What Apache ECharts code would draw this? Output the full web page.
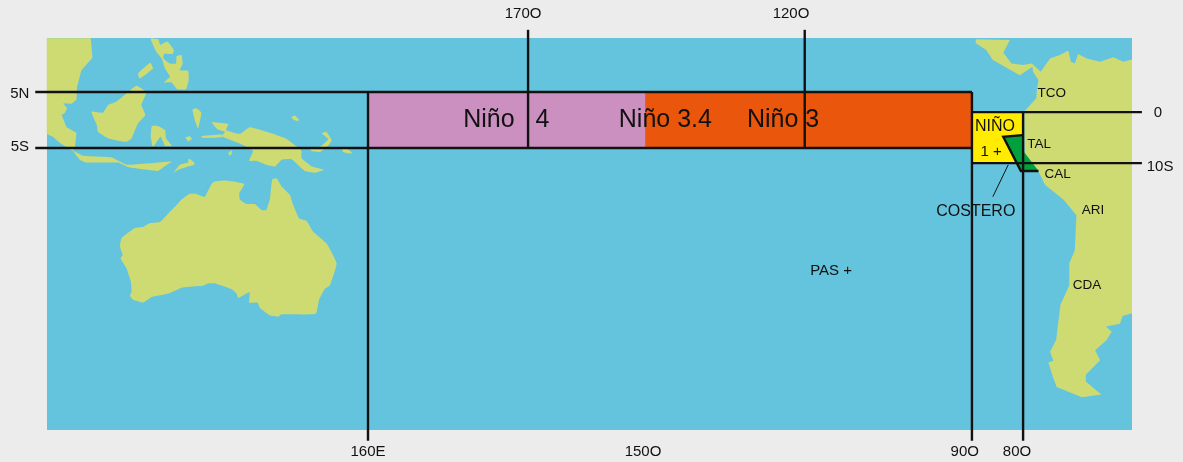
<!DOCTYPE html>
<html><head><meta charset="utf-8">
<style>html,body{margin:0;padding:0;background:#ececec}#c{width:1183px;height:462px}</style>
<script src="https://cdn.jsdelivr.net/npm/echarts@6/dist/echarts.min.js"></script>
</head><body><div id="c"></div>
<script>
// Longitudes run eastward from 0 to 360 (so 90O = 270); latitudes are negative in the south.
const lonRange = [101.64, 298.9];
const latRange = [-55.36, 14.64];

// Land outlines [lon, lat]
const indochina = [[101.6,14.6],[109.6,14.6],[109.9,11.1],[107.9,8.9],[107.1,5.9],[107.0,3.6],[106.1,2.9],[104.6,3.0],[105.3,2.1],[104.9,1.3],[104.3,0.9],[105.2,-1.3],[107.0,-2.3],[106.7,-5.0],[106.3,-5.5],[104.0,-4.1],[102.7,-3.0],[101.6,-2.5]];
const java = [[106.4,-5.5],[108.2,-6.4],[113.4,-6.7],[116.2,-8.0],[124.3,-7.4],[123.1,-8.2],[121.8,-9.1],[116.4,-8.4],[114.6,-7.6],[108.8,-7.6],[107.6,-7.1]];
const borneo = [[117.9,6.1],[119.7,4.9],[118.8,2.7],[119.5,0.9],[118.2,-0.6],[117.0,-3.3],[116.0,-3.9],[112.8,-3.3],[110.9,-2.1],[110.7,-0.9],[109.7,1.5],[111.8,1.3],[112.8,2.7],[114.3,3.3],[115.8,4.5]];
const philippines = [[120.5,14.5],[121.9,14.4],[122.2,13.4],[123.5,14.0],[124.7,12.5],[124.5,11.8],[122.9,11.8],[122.8,11.0],[124.0,10.1],[125.1,10.1],[125.2,11.4],[126.1,11.6],[126.3,10.1],[125.8,8.9],[127.3,8.8],[127.4,7.1],[126.9,5.5],[125.3,5.5],[124.3,6.7],[122.9,6.7],[124.0,7.7],[123.1,9.2],[122.5,11.0],[121.5,12.2]];
const palawan = [[118.2,8.3],[120.4,10.2],[120.9,9.2],[118.5,7.4]];
const sulawesi = [[120.7,-1.1],[121.9,-1.1],[123.1,-1.8],[123.3,-3.3],[124.3,-4.6],[123.1,-4.6],[122.3,-3.0],[120.9,-4.8],[120.5,-3.0]];
const halmahera = [[128.1,1.9],[128.8,2.1],[129.7,1.3],[129.1,-1.5],[128.5,0]];
const buru = [[126.8,-3.1],[127.6,-2.9],[128.0,-3.4],[127.3,-3.8]];
const seram = [[129.6,-2.9],[133.4,-2.6],[133.4,-3.1],[130.1,-3.2]];
const timor = [[124.7,-9.4],[125.8,-8.0],[127.3,-7.6],[127.4,-6.9],[128.4,-7.6],[128.4,-8.0],[127.0,-8.4],[125.5,-8.9]];
const newGuinea = [[131.6,-0.4],[134.6,-0.7],[134.2,-1.8],[136.7,-2.5],[138.5,-1.3],[142.2,-2.3],[145.2,-3.4],[147.9,-5.5],[147.9,-6.8],[149.8,-8.3],[152.0,-8.9],[150.4,-9.4],[148.5,-9.1],[146.1,-7.0],[144.3,-7.1],[143.1,-8.3],[141.5,-8.0],[139.7,-7.3],[138.4,-7.3],[139.1,-5.5],[136.7,-4.2],[133.4,-2.9],[134.0,-2.1],[132.7,-1.7]];
const newBritain = [[149.5,-5.2],[151.3,-4.8],[152.8,-3.4],[151.6,-2.4],[152.4,-2.1],[153.4,-3.6],[152.8,-4.5],[151.3,-5.7],[149.8,-5.6]];
const bougainville = [[155.2,-4.9],[155.8,-4.9],[157.0,-5.7],[157.0,-6.0],[155.5,-5.7]];
const manus = [[146.1,0.5],[146.7,0.8],[147.4,0.1],[147.3,-0.2],[146.4,0.1]];
const aru = [[134.6,-5.9],[135.2,-5.4],[135.2,-6.1],[134.8,-6.3]];
const australia = [[131.8,-11.1],[134.0,-10.8],[137.5,-11.4],[136.6,-13.1],[136.7,-14.2],[137.9,-15.0],[139.4,-15.0],[140.7,-16.1],[141.5,-16.1],[142.2,-14.0],[142.3,-12.8],[142.6,-10.6],[143.4,-10.4],[144.3,-11.9],[145.8,-13.4],[146.3,-14.9],[147.5,-17.6],[148.8,-18.0],[150.0,-19.9],[152.5,-22.1],[154.3,-25.6],[153.1,-29.5],[152.2,-30.1],[151.1,-32.1],[150.5,-34.6],[144.3,-34.7],[143.7,-35.1],[142.2,-34.9],[140.4,-33.6],[139.9,-32.6],[138.4,-32.6],[138.5,-30.7],[137.3,-31.3],[136.4,-31.8],[136.1,-31.0],[135.2,-30.2],[132.2,-29.2],[130.9,-29.2],[130.0,-29.6],[126.3,-29.9],[123.7,-31.0],[120.7,-31.6],[119.1,-32.6],[117.3,-32.1],[116.7,-31.4],[117.0,-30.7],[116.9,-28.9],[116.1,-26.5],[115.0,-24.7],[115.4,-24.1],[114.9,-22.6],[115.2,-21.1],[117.6,-19.3],[119.1,-19.1],[120.4,-18.4],[122.2,-18.2],[123.7,-16.7],[125.2,-15.2],[126.1,-14.2],[127.5,-13.2],[128.8,-13.2],[130.3,-13.7]];
const americas = [[270.5,14.4],[276.7,14.3],[275.5,12.0],[277.0,10.1],[279.1,9.8],[280.7,10.1],[282.3,8.6],[284.0,11.0],[285.8,11.6],[287.3,12.4],[287.8,10.4],[288.5,10.1],[289.1,11.8],[290.7,11.0],[293.1,10.4],[295.5,11.2],[297.3,10.4],[298.9,10.8],[298.9,-34.5],[297.2,-35.0],[296.7,-36.4],[294.2,-36.9],[295.2,-37.8],[294.3,-39.3],[292.2,-41.1],[293.1,-42.9],[290.5,-45.5],[290.5,-46.7],[293.3,-49.0],[289.8,-49.5],[285.2,-47.7],[284.5,-45.8],[283.7,-43.3],[284.6,-43.0],[284.0,-41.4],[285.1,-39.3],[285.9,-33.0],[287.5,-29.5],[287.5,-25.6],[288.5,-23.3],[288.8,-17.0],[286.5,-14.3],[285.8,-13.7],[283.1,-11.6],[281.9,-9.2],[279.4,-5.9],[279.3,1.5],[281.5,3.9],[281.6,5.4],[281.9,7.1],[280.9,8.6],[280.8,9.5],[278.5,8.0],[275.8,9.5],[273.6,10.7],[272.4,12.5],[270.5,13.7]];
const landShapes = [indochina, java, borneo, philippines, palawan, sulawesi, halmahera, buru, seram, timor, newGuinea, newBritain, bougainville, manus, aru, australia, americas];

// Niño regions: [west, east, north, south]
const regionNames = ['Niño 4', 'Niño 3', 'Niño 1+2'];
const regionBounds = [[160.0,210.4,5,-5],[210.4,269.8,5,-5],[269.8,279.1,1.4,-7.7]];
const regionColors = ['#cb90c0','#e9560c','#ffec00'];
const costero = [[275.5,-3.0],[279.0,-2.7],[279.1,-5.5],[279.4,-5.9],[281.9,-9.1],[278.7,-9.1]];

// Reference lines, each a list of [lon, lat]
const guideLines = [
  [[99.5,5],[269.8,5]],
  [[99.5,-5],[269.8,-5]],
  [[160.0,5],[160.0,-57.3]],
  [[189.1,16.1],[189.1,-5]],
  [[239.4,16.1],[239.4,-5]],
  [[269.8,5],[269.8,-57.3]],
  [[279.1,1.4],[279.1,-57.3]],
  [[269.8,1.4],[300.7,1.4]],
  [[269.8,-7.7],[300.7,-7.7]],
  [[279.0,-2.7],[275.5,-3.0],[278.7,-9.1],[281.9,-9.1]]
];
const costeroLeader = [[276.4,-8.0],[273.6,-13.7]];

// Text
const tickLabels = [['5N',96.7,4.6],['5S',96.7,-4.8],['0',303.6,1.2],['10S',304.0,-8.3],['170O',188.2,18.9],['120O',236.9,18.9],['160E',160.0,-59.3],['150O',210.0,-59.3],['90O',268.5,-59.3],['80O',278.0,-59.3]];
const regionLabels = [['Niño   4',177.3,0.05],['Niño 3.4',205.6,0.05],['Niño 3',228.9,0.05]];
const placeLabels = [['TCO',284.3,4.85],['TAL',282.0,-4.25],['CAL',285.4,-9.7],['ARI',291.8,-16.05],['CDA',290.7,-29.5]];
const boxLabels = [['COSTERO',270.5,-16.3],['NIÑO',274.0,-1.25]];
const midLabels = [['PAS +',244.2,-27.0],['1 +',273.3,-5.75]];

const FONT = '"Liberation Sans", Arial, sans-serif';
const idx = a => a.map((_, i) => [i]);
const poly = (pts, api, style, smooth) => ({type:'polygon', shape:{points:pts.map(p=>api.coord(p)), smooth:smooth||0}, style, silent:true});

function textSeries(list, size, align, z) {
  return {type:'custom', coordinateSystem:'cartesian2d', z, silent:true, data:idx(list),
    renderItem:(p, api) => { const t = list[p.dataIndex], c = api.coord([t[1], t[2]]);
      return {type:'text', x:c[0], y:c[1], style:{text:t[0], fill:'#111', font:size+'px '+FONT, textAlign:align, textVerticalAlign:'middle'}}; }};
}

const chart = echarts.init(document.getElementById('c'), null, {renderer:'canvas'});
chart.setOption({
  animation:false,
  backgroundColor:'#ececec',
  tooltip:{show:false},
  grid:{left:47, top:38, width:1085, height:392, show:true, backgroundColor:'#65c4dd', borderWidth:0},
  xAxis:{type:'value', min:lonRange[0], max:lonRange[1], show:false},
  yAxis:{type:'value', min:latRange[0], max:latRange[1], show:false},
  series:[
    {type:'custom', coordinateSystem:'cartesian2d', z:1, silent:true, data:idx(landShapes),
      renderItem:(p, api) => poly(landShapes[p.dataIndex], api, {fill:'#cddb72'}, landShapes[p.dataIndex]===americas||landShapes[p.dataIndex]===indochina?0:0.12)},
    {type:'custom', coordinateSystem:'cartesian2d', z:2, silent:true, data:idx(regionNames),
      renderItem:(p, api) => { const b = regionBounds[p.dataIndex];
        return poly([[b[0],b[2]],[b[1],b[2]],[b[1],b[3]],[b[0],b[3]]], api, {fill:regionColors[p.dataIndex]}); }},
    {type:'custom', coordinateSystem:'cartesian2d', z:3, silent:true, data:[[0]],
      renderItem:(p, api) => poly(costero, api, {fill:'#00a03c'})},
    {type:'custom', coordinateSystem:'cartesian2d', z:4, silent:true, data:idx(guideLines),
      renderItem:(p, api) => ({type:'polyline', shape:{points:guideLines[p.dataIndex].map(q=>api.coord(q))}, style:{stroke:'#111', lineWidth:2.4, fill:null}})},
    {type:'custom', coordinateSystem:'cartesian2d', z:4, silent:true, data:[[0]],
      renderItem:(p, api) => ({type:'polyline', shape:{points:costeroLeader.map(q=>api.coord(q))}, style:{stroke:'#111', lineWidth:1, fill:null}})},
    textSeries(tickLabels, 15, 'center', 5),
    textSeries(regionLabels, 25, 'left', 5),
    textSeries(placeLabels, 13.5, 'center', 5),
    textSeries(boxLabels, 16, 'center', 5),
    textSeries(midLabels, 15, 'center', 5)
  ]
});
</script></body></html>
